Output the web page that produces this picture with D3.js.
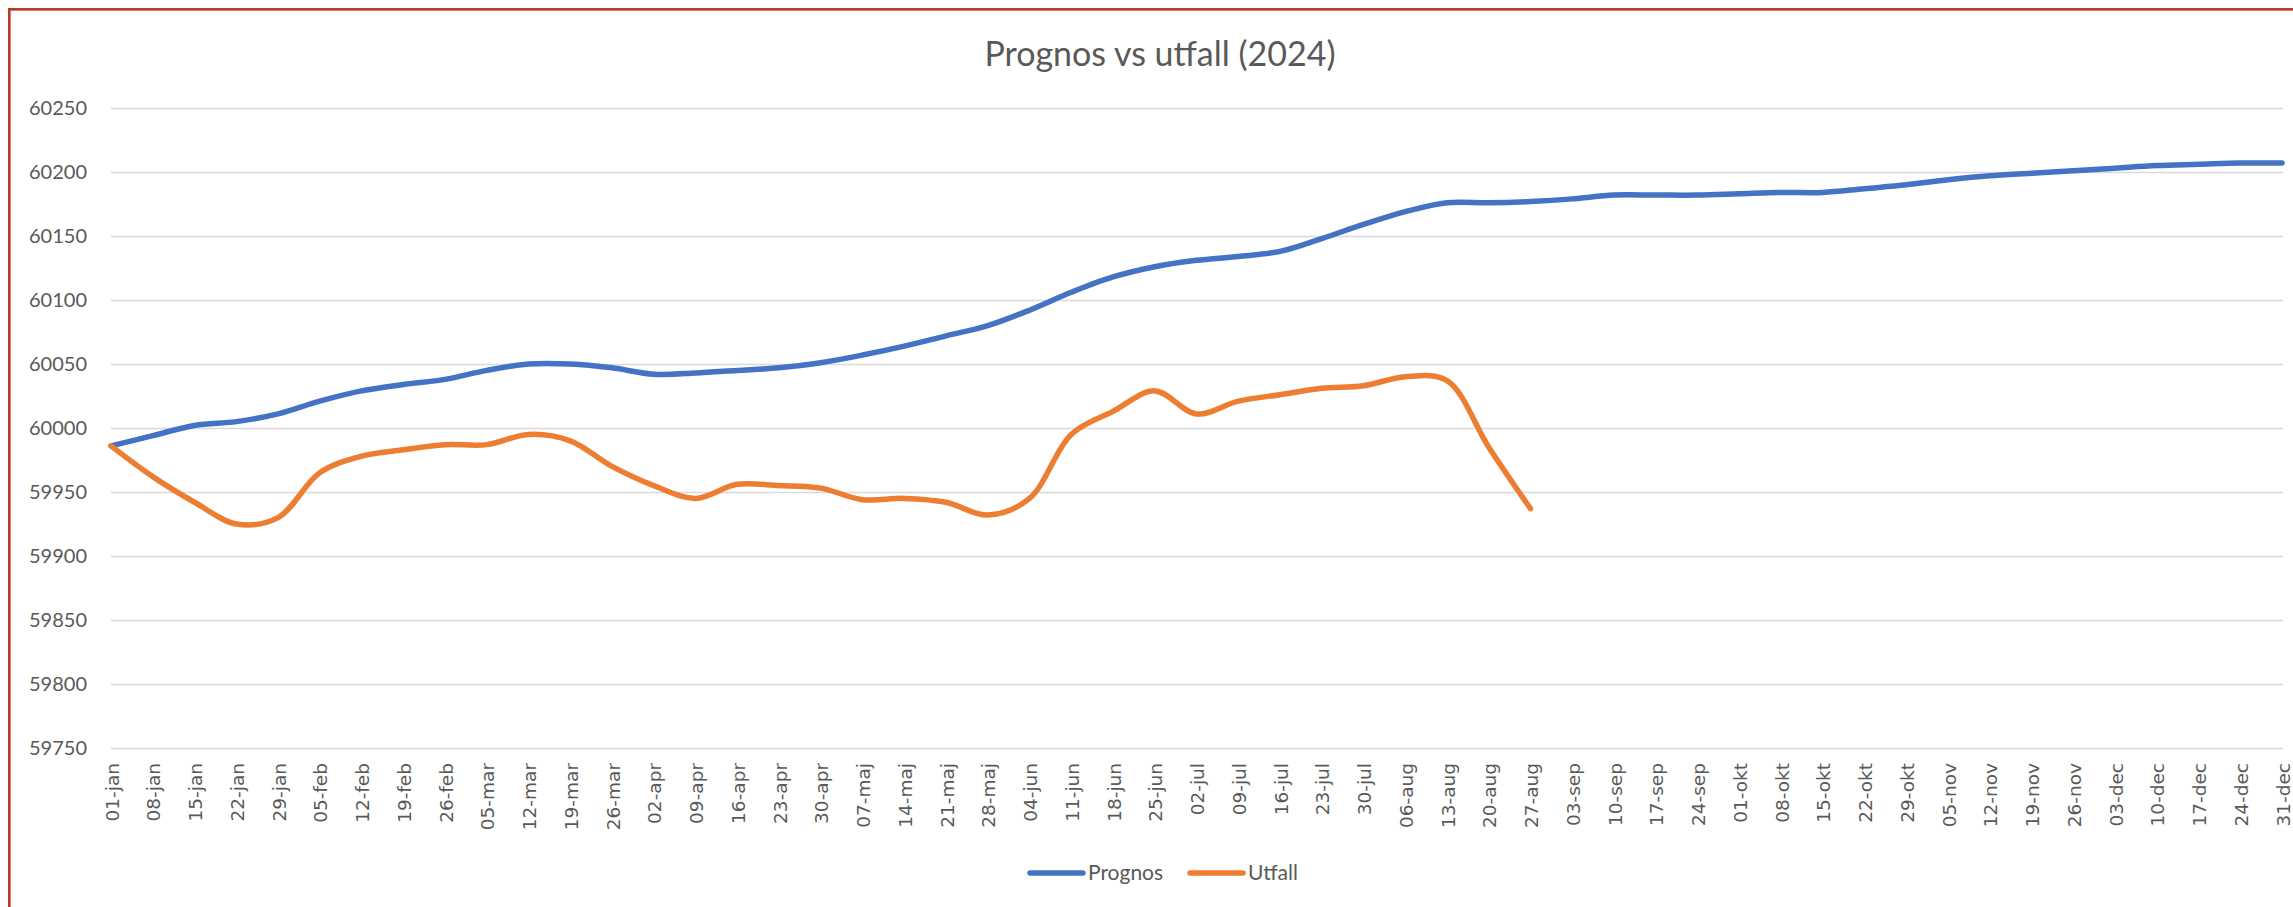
<!DOCTYPE html>
<html>
<head>
<meta charset="utf-8">
<script src="https://cdn.jsdelivr.net/npm/d3@7"></script>
<style>
  html, body { margin: 0; padding: 0; background: #fff; }
</style>
</head>
<body>
<div id="chart"></div>
<script>
// veckoetiketter på x-axeln
const weeks = [
  '01-jan', '08-jan', '15-jan', '22-jan', '29-jan', '05-feb', '12-feb', '19-feb', '26-feb',
  '05-mar', '12-mar', '19-mar', '26-mar', '02-apr', '09-apr', '16-apr', '23-apr', '30-apr',
  '07-maj', '14-maj', '21-maj', '28-maj', '04-jun', '11-jun', '18-jun', '25-jun', '02-jul',
  '09-jul', '16-jul', '23-jul', '30-jul', '06-aug', '13-aug', '20-aug', '27-aug', '03-sep',
  '10-sep', '17-sep', '24-sep', '01-okt', '08-okt', '15-okt', '22-okt', '29-okt', '05-nov',
  '12-nov', '19-nov', '26-nov', '03-dec', '10-dec', '17-dec', '24-dec', '31-dec'
];

const prognos = [
  59986, 59994, 60002, 60005, 60011, 60021, 60029, 60034, 60038,
  60045, 60050, 60050, 60047, 60042, 60043, 60045, 60047, 60051,
  60057, 60064, 60072, 60080, 60092, 60106, 60118, 60126, 60131,
  60134, 60138, 60148, 60159, 60169, 60176, 60176, 60177, 60179,
  60182, 60182, 60182, 60183, 60184, 60184, 60187, 60190, 60194,
  60197, 60199, 60201, 60203, 60205, 60206, 60207, 60207
];

const utfall = [
  59986, 59962, 59942, 59925, 59930, 59965, 59978, 59983, 59987,
  59987, 59995, 59990, 59970, 59955, 59945, 59956, 59955, 59953,
  59944, 59945, 59942, 59932, 59945, 59995, 60013, 60029, 60011,
  60021, 60026, 60031, 60033, 60040, 60037, 59985, 59937
];

const yTicks = [59750, 59800, 59850, 59900, 59950, 60000, 60050, 60100, 60150, 60200, 60250];

const series = [
  { name: 'Prognos', values: prognos, color: '#4472C4' },
  { name: 'Utfall', values: utfall, color: '#ED7D31' }
];

const W = 2293, H = 907;
const plotLeft = 111, plotRight = 2282, plotTop = 108, plotBottom = 748;
const textColor = '#595959';

const svg = d3.select('#chart')
  .append('svg')
  .attr('width', W)
  .attr('height', H)
  .style('display', 'block');

svg.append('rect').attr('width', W).attr('height', H).attr('fill', '#fff');

// ram runt diagrammet
svg.append('rect')
  .attr('x', 9.3)
  .attr('y', 9.3)
  .attr('width', W + 50)
  .attr('height', H + 50)
  .attr('fill', 'none')
  .attr('stroke', '#B23D2A')
  .attr('stroke-width', 2.7);

svg.append('text')
  .attr('x', 1160)
  .attr('y', 66)
  .attr('text-anchor', 'middle')
  .style('font-family', 'Lato, "Open Sans", sans-serif')
  .style('font-size', '34px')
  .attr('fill', textColor)
  .text('Prognos vs utfall (2024)');

const x = d3.scalePoint().domain(weeks).range([plotLeft, plotRight]);
const y = d3.scaleLinear().domain([59750, 60250]).range([plotBottom, plotTop]);

const yAxis = svg.append('g')
  .attr('transform', `translate(${plotLeft},0)`)
  .call(d3.axisLeft(y).tickValues(yTicks).tickSize(-(plotRight - plotLeft + 1)).tickPadding(24).tickFormat(d3.format('d')));

yAxis.select('.domain').remove();
yAxis.selectAll('.tick line').attr('stroke', '#D9D9D9').attr('stroke-width', 1.6);
yAxis.selectAll('.tick text')
  .attr('fill', textColor)
  .style('font-family', 'Lato, "Open Sans", sans-serif')
  .style('font-size', '20px');

const xAxis = svg.append('g')
  .attr('transform', `translate(0,${plotBottom})`)
  .call(d3.axisBottom(x).tickSize(0));

xAxis.select('.domain').remove();
xAxis.selectAll('.tick text')
  .attr('transform', 'rotate(-90)')
  .attr('x', -15)
  .attr('y', 0)
  .attr('dy', '0.38em')
  .attr('text-anchor', 'end')
  .attr('fill', textColor)
  .style('font-family', '"DejaVu Sans", sans-serif')
  .style('font-size', '18.5px');

const line = d3.line()
  .x((d, i) => x(weeks[i]))
  .y((d) => y(d))
  .curve(d3.curveCatmullRom.alpha(0.5));

svg.selectAll('path.serie')
  .data(series)
  .enter()
  .append('path')
  .attr('class', 'serie')
  .attr('d', (d) => line(d.values))
  .attr('fill', 'none')
  .attr('stroke', (d) => d.color)
  .attr('stroke-width', 5.5)
  .attr('stroke-linecap', 'round')
  .attr('stroke-linejoin', 'round');

// teckenförklaring
const legendX = [1030, 1190];
const legend = svg.selectAll('g.legend')
  .data(series)
  .enter()
  .append('g')
  .attr('class', 'legend')
  .attr('transform', (d, i) => `translate(${legendX[i]},873)`);

legend.append('line')
  .attr('x1', 0)
  .attr('x2', 53)
  .attr('stroke', (d) => d.color)
  .attr('stroke-width', 5.5)
  .attr('stroke-linecap', 'round');

legend.append('text')
  .attr('x', 58)
  .attr('dy', '0.35em')
  .attr('fill', textColor)
  .style('font-family', 'Lato, "Open Sans", sans-serif')
  .style('font-size', '21px')
  .text((d) => d.name);
</script>
</body>
</html>
